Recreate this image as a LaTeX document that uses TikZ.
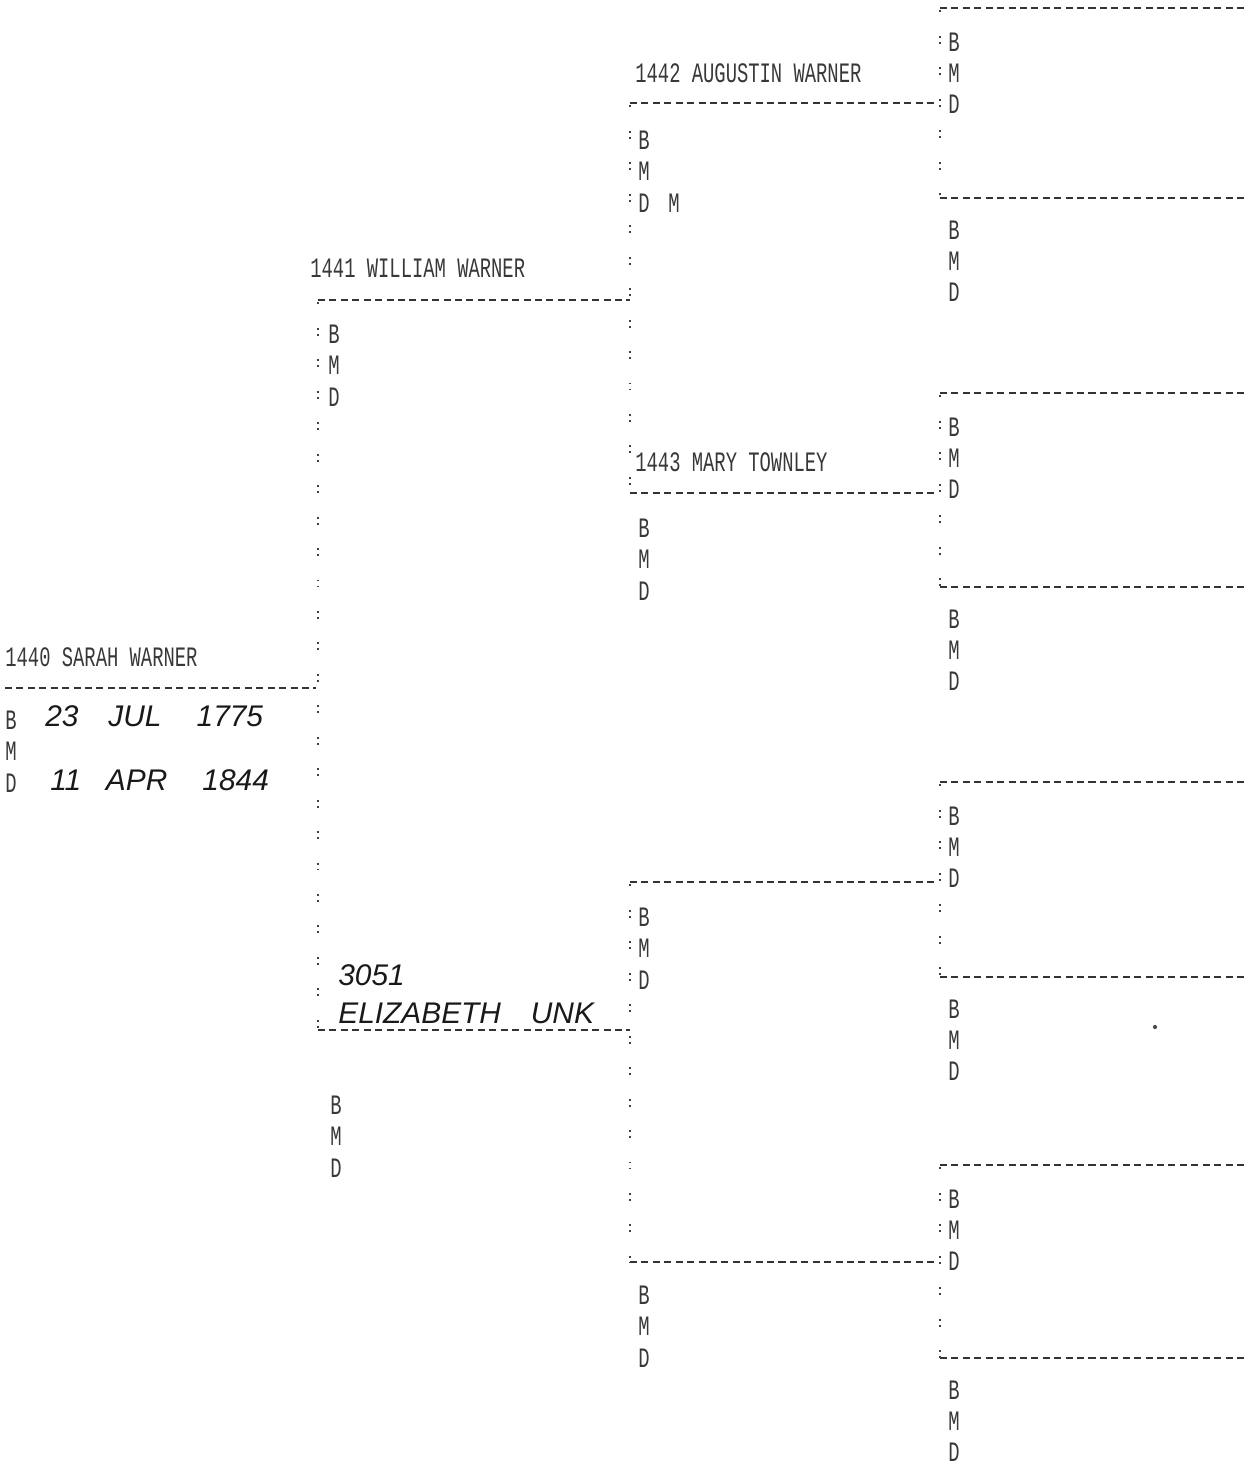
\documentclass[tikz,border=0pt]{standalone}
\usepackage{fontspec}
\newfontfamily\dotmatrix[FakeStretch=0.67]{Liberation Mono}
\newfontfamily\penhand{Liberation Sans}
\usetikzlibrary{positioning}

\tikzset{
  printed/.style={font=\dotmatrix\fontsize{16}{16}\selectfont, text=black!78, anchor=west, inner sep=0pt},
  inked/.style={font=\penhand\itshape\fontsize{17}{17}\selectfont, text=black!90, anchor=west, inner sep=0pt},
  dashrule/.style={black!80, line width=0.9pt, dash pattern=on 4pt off 2.5pt},
  colonline/.style={black!75, line width=1.3pt, dash pattern=on 1.1pt off 2.3pt on 1.1pt off 13.4pt, dash phase=2pt}
}

\begin{document}
\begin{tikzpicture}[x=0.02cm,y=-0.02cm]
\useasboundingbox (0,0) rectangle (1247,1466);

% generation 1
\node[printed] (sarah) at (5,657) {1440 SARAH WARNER};
\coordinate (sarahL) at (5,688);
\coordinate (sarahR) at (316,688);
\draw[dashrule] (sarahL) -- (sarahR);
\node[inked] (sarahborn) at (45,716) {23\hspace{17pt}JUL\hspace{20pt}1775};
\node[inked] (sarahdied) at (50,780) {11\hspace{14pt}APR\hspace{20pt}1844};

% generation 2
\node[printed] (william) at (310,268) {1441 WILLIAM WARNER};
\coordinate (williamL) at (318,300);
\coordinate (williamR) at (630,300);
\draw[dashrule] (williamL) -- (williamR);

\node[inked] (elizno) at (338,975) {3051};
\node[inked] (eliz) at (338,1013) {ELIZABETH\hspace{17pt}UNK};
\coordinate (elizL) at (318,1030);
\coordinate (elizR) at (630,1030);
\draw[dashrule] (elizL) -- (elizR);

\draw[colonline] (williamL) -- (elizL);

% generation 3
\node[printed] (augustin) at (635,73) {1442 AUGUSTIN WARNER};
\coordinate (augustinL) at (630,103);
\coordinate (augustinR) at (936,103);
\draw[dashrule] (augustinL) -- (augustinR);
\node[printed] (augustinM) at (668,203) {M};

\node[printed] (mary) at (635,462) {1443 MARY TOWNLEY};
\coordinate (maryL) at (630,493);
\coordinate (maryR) at (936,493);
\draw[dashrule] (maryL) -- (maryR);

\coordinate (gpaL) at (630,882);
\coordinate (gpaR) at (936,882);
\draw[dashrule] (gpaL) -- (gpaR);
\coordinate (gmaL) at (630,1262);
\coordinate (gmaR) at (936,1262);
\draw[dashrule] (gmaL) -- (gmaR);

\draw[colonline] (augustinL) -- (maryL);
\draw[colonline] (gpaL) -- (gmaL);

% B M D lines
\foreach \who/\x/\y in {sarah/5/720, william/328/334, eliz/330/1105,
    augustin/638/140, mary/638/528, gpa/638/917, gma/638/1295}
  \foreach \ltr [count=\i from 0] in {B,M,D}
    \node[printed] (\who\ltr) at (\x,\y+31.5*\i) {\ltr};

% generation 4
\foreach \top/\bot [count=\k] in {8/198, 393/587, 782/977, 1165/1358} {
  \coordinate (pa\k L) at (940,\top);
  \coordinate (pa\k R) at (1247,\top);
  \coordinate (ma\k L) at (940,\bot);
  \coordinate (ma\k R) at (1247,\bot);
  \draw[dashrule] (pa\k L) -- (pa\k R);
  \draw[dashrule] (ma\k L) -- (ma\k R);
  \draw[colonline] (pa\k L) -- (ma\k L);
  \foreach \ltr [count=\i from 0] in {B,M,D} {
    \node[printed] (pa\k\ltr) at (948,\top+34+31*\i) {\ltr};
    \node[printed] (ma\k\ltr) at (948,\bot+32+31*\i) {\ltr};
  }
}

\fill[black!70] (1155,1027) circle (1.2pt);
\end{tikzpicture}
\end{document}
